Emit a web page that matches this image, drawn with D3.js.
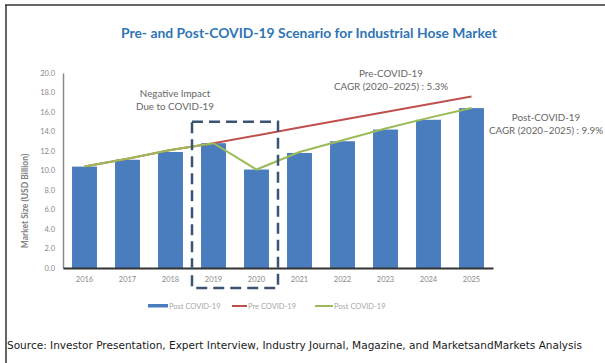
<!DOCTYPE html>
<html>
<head>
<meta charset="utf-8">
<script src="https://cdn.jsdelivr.net/npm/d3@7"></script>
<style>
  html, body { margin: 0; padding: 0; background: #fff; }
  svg { display: block; }
</style>
</head>
<body>
<svg id="chart" width="605" height="363"></svg>
<script>
// Market size, USD billion
const years = ["2016", "2017", "2018", "2019", "2020", "2021", "2022", "2023", "2024", "2025"];
const postCovidBars = [10.4, 11.1, 11.9, 12.8, 10.1, 11.8, 13.0, 14.2, 15.2, 16.4];
const preCovidLine = [10.4, 11.2, 12.1, 12.8, 13.6, 14.4, 15.2, 16.0, 16.8, 17.6];
const postCovidLine = [10.4, 11.2, 12.1, 12.8, 10.1, 11.9, 13.1, 14.3, 15.4, 16.4];
const yTicks = [0, 2, 4, 6, 8, 10, 12, 14, 16, 18, 20];
const impactYears = ["2019", "2020"];
const impactTop = 15;

const colors = { bar: "#4a7dbd", pre: "#c0504d", post: "#9bbb59", box: "#3c5473", title: "#2f75b5" };

const svg = d3.select("#chart");

// frame: top and left rule
svg.append("line").attr("x1", 5).attr("x2", 605).attr("y1", 5).attr("y2", 5)
  .attr("stroke", "#333").attr("stroke-width", 1.5);
svg.append("line").attr("x1", 6).attr("x2", 6).attr("y1", 5).attr("y2", 363)
  .attr("stroke", "#333").attr("stroke-width", 1.5);

const x = d3.scaleBand().domain(years).range([63, 493]).paddingInner(0.42).paddingOuter(0.21);
const xBand = d3.scaleBand().domain(years).range([63, 493]);
const y = d3.scaleLinear().domain([0, 20]).range([268, 73]);

// title
svg.append("text").attr("x", 309).attr("y", 38).attr("text-anchor", "middle")
  .attr("font-family", "Lato, 'Open Sans', sans-serif").attr("font-weight", "bold")
  .attr("font-size", 14).attr("fill", colors.title)
  .attr("textLength", 376).attr("lengthAdjust", "spacingAndGlyphs")
  .text("Pre-  and Post-COVID-19 Scenario for Industrial Hose Market");

// y axis
const yAxis = d3.axisLeft(y).tickValues(yTicks).tickFormat(d3.format(".1f")).tickSize(0).tickPadding(8);
const gy = svg.append("g").attr("transform", "translate(63,0)").call(yAxis);
gy.select(".domain").attr("stroke", "#8a8a8a").attr("stroke-width", 1.5);
gy.selectAll("text").attr("font-family", "Lato, sans-serif").attr("font-size", 7.5).attr("fill", "#888");

svg.append("text").attr("transform", "translate(28,201) rotate(-90)").attr("text-anchor", "middle")
  .attr("font-family", "Lato, sans-serif").attr("font-weight", "bold").attr("font-size", 8.5).attr("fill", "#808080")
  .text("Market Size (USD Billion)");

// bars
svg.append("g").selectAll("rect").data(years).join("rect")
  .attr("x", d => x(d)).attr("width", x.bandwidth())
  .attr("y", (d, i) => y(postCovidBars[i])).attr("height", (d, i) => y(0) - y(postCovidBars[i]))
  .attr("fill", colors.bar);

// x axis
const xAxis = d3.axisBottom(xBand).tickSize(0).tickPadding(9);
const gx = svg.append("g").attr("transform", `translate(0,${y(0)})`).call(xAxis);
gx.select(".domain").attr("stroke", "#333").attr("stroke-width", 2);
gx.selectAll("text").attr("font-family", "Lato, sans-serif").attr("font-size", 7.5).attr("fill", "#888");

// trend lines
const line = d3.line().x((d, i) => xBand(years[i]) + xBand.bandwidth() / 2).y(d => y(d));
svg.append("path").datum(preCovidLine).attr("d", line)
  .attr("fill", "none").attr("stroke", colors.pre).attr("stroke-width", 2);
svg.append("path").datum(postCovidLine).attr("d", line)
  .attr("fill", "none").attr("stroke", colors.post).attr("stroke-width", 2);

// impact highlight box around 2019-2020
const bx0 = xBand(impactYears[0]);
const bx1 = xBand(impactYears[1]) + xBand.bandwidth();
svg.append("rect").attr("x", bx0).attr("y", y(impactTop)).attr("width", bx1 - bx0)
  .attr("height", y(0) + 20 - y(impactTop))
  .attr("fill", "none").attr("stroke", colors.box).attr("stroke-width", 2.5)
  .attr("stroke-dasharray", "11,6");

// annotations
const note = (lines, cx, cy) => {
  const t = svg.append("text").attr("text-anchor", "middle")
    .attr("font-family", "Lato, sans-serif").attr("font-size", 9.8).attr("fill", "#666");
  lines.forEach((s, i) => t.append("tspan").attr("x", cx).attr("y", cy + i * 13).text(s));
};
note(["Negative Impact", "Due to COVID-19"], 175, 97);
note(["Pre-COVID-19", "CAGR (2020\u20132025) : 5.3%"], 391, 77);
note(["Post-COVID-19", "CAGR (2020\u20132025) : 9.9%"], 546, 121);

// legend
const lg = svg.append("g").attr("font-family", "Lato, sans-serif").attr("font-size", 7.5).attr("fill", "#a8a8a8");
lg.append("rect").attr("x", 148).attr("y", 304).attr("width", 20).attr("height", 3.5).attr("fill", colors.bar);
lg.append("text").attr("x", 169).attr("y", 308.5).text("Post COVID-19");
lg.append("line").attr("x1", 232).attr("x2", 247).attr("y1", 306).attr("y2", 306).attr("stroke", colors.pre).attr("stroke-width", 2);
lg.append("text").attr("x", 248).attr("y", 308.5).text("Pre COVID-19");
lg.append("line").attr("x1", 315).attr("x2", 333).attr("y1", 306).attr("y2", 306).attr("stroke", colors.post).attr("stroke-width", 2);
lg.append("text").attr("x", 334).attr("y", 308.5).text("Post COVID-19");

// source line
svg.append("text").attr("x", 7).attr("y", 349)
  .attr("font-family", "'DejaVu Sans', Verdana, sans-serif").attr("font-size", 10).attr("fill", "#1a1a1a")
  .attr("textLength", 575).attr("lengthAdjust", "spacingAndGlyphs")
  .text("Source: Investor Presentation, Expert Interview, Industry Journal, Magazine, and MarketsandMarkets Analysis");
</script>
</body>
</html>
